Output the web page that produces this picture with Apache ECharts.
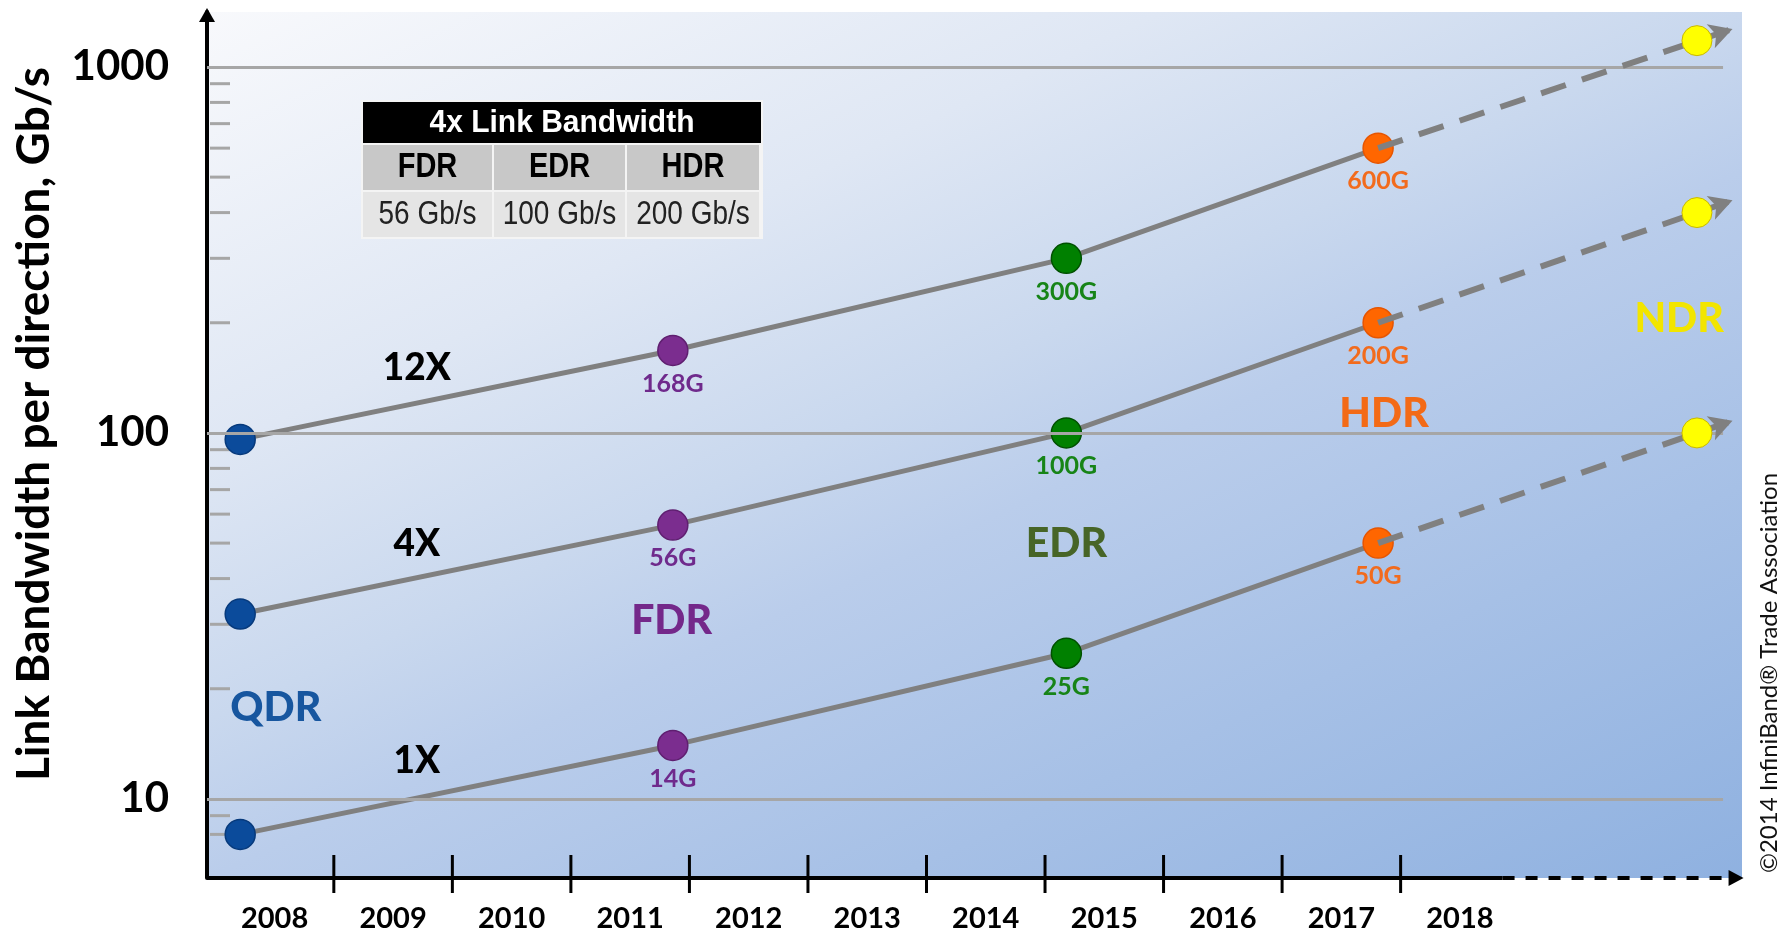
<!DOCTYPE html>
<html>
<head>
<meta charset="utf-8">
<title>InfiniBand link bandwidth roadmap</title>
<script src="https://cdn.jsdelivr.net/npm/echarts@6/dist/echarts.min.js"></script>
<style>
  html, body { margin: 0; padding: 0; background: #fff; }
  #chart { width: 1787px; height: 936px; }
</style>
</head>
<body>
<div id="chart"></div>
<script>
// values (Gb/s per direction, log scale)
var generations = ['QDR', 'FDR', 'EDR', 'HDR'];
var genYears = [2008.21, 2011.86, 2015.18, 2017.81];
var lanes = ['1X', '4X', '12X'];
var lane1x = [8, 14, 25, 50];
var lane4x = [32, 56, 100, 200];
var lane12x = [96, 168, 300, 600];
var ndrYear = 2020.5;
var ndrValues = [100, 400, 1180];
var arrowYear = 2020.8;
var arrowValues = [108, 432, 1270];
var yearLabels = [2008, 2009, 2010, 2011, 2012, 2013, 2014, 2015, 2016, 2017, 2018];
var yearTicks = [2009, 2010, 2011, 2012, 2013, 2014, 2015, 2016, 2017, 2018];
var yLabels = [10, 100, 1000];
var minorTicks = [8, 9, 20, 30, 40, 50, 60, 70, 80, 90, 200, 300, 400, 500, 600, 700, 800, 900];
var tableHead = '4x Link Bandwidth';
var tableCols = ['FDR', 'EDR', 'HDR'];
var tableRates = ['56 Gb/s', '100 Gb/s', '200 Gb/s'];

// where the free text sits, in axis units
var laneTextAt = { years: [2009.70, 2009.70, 2009.70], values: [12.7, 49.8, 150] };
var genTextNames = ['QDR', 'FDR', 'EDR', 'HDR', 'NDR'];
var genTextAt = { years: [2008.51, 2011.85, 2015.18, 2017.86, 2020.35], values: [17.7, 30.6, 49.8, 113, 205] };

var xMin = 2007.93, xMax = 2020.88, yMin = 6.08, yMax = 1413;
var gridEnd = 2020.72, axisSolidEnd = 2018.86, axisArrowEnd = 2020.83;

var dotColors = { QDR: '#0b4b9b', FDR: '#7b2d8f', EDR: '#008000', HDR: '#ff6600' };
var dotBorders = { QDR: '#073a7c', FDR: '#5f1f70', EDR: '#005000', HDR: '#e65500' };
var labelColors = { QDR: '#1f5ea6', FDR: '#6f2a8c', EDR: '#178417', HDR: '#f26b1d' };
var genTextColors = { QDR: '#17569f', FDR: '#74288a', EDR: '#476527', HDR: '#f36a16', NDR: '#f2e500' };

var chart = echarts.init(document.getElementById('chart'), null, { renderer: 'canvas' });

function laneSeries(name, values, arrowValue) {
  return {
    name: name,
    type: 'line',
    z: 3,
    clip: false,
    symbol: 'circle',
    symbolSize: 30,
    showAllSymbol: true,
    lineStyle: { color: '#808080', width: 5 },
    label: {
      show: true,
      position: 'bottom',
      distance: 5,
      fontFamily: 'Lato',
      fontWeight: 'bold',
      fontSize: 25,
      formatter: function (p) { return p.value[1] + 'G'; }
    },
    data: values.map(function (v, i) {
      var g = generations[i];
      return {
        value: [genYears[i], v],
        itemStyle: { color: dotColors[g], borderColor: dotBorders[g], borderWidth: 1.5, opacity: 1 },
        label: { show: i > 0, color: labelColors[g] }
      };
    }),
    markLine: {
      silent: true,
      animation: false,
      symbol: ['none', 'arrow'],
      symbolSize: [19, 23],
      label: { show: false },
      lineStyle: { color: '#808080', width: 6, type: [26, 17] },
      data: [[{ coord: [genYears[3], values[3]] }, { coord: [arrowYear, arrowValue] }]]
    }
  };
}

var font = 'Lato';

var option = {
  animation: false,
  grid: {
    left: 207, right: 45, top: 12, bottom: 58,
    show: true, borderWidth: 0,
    backgroundColor: new echarts.graphic.LinearGradient(0, 0, 0.39, 1.5, [
      { offset: 0, color: '#f8f9fc' },
      { offset: 0.28, color: '#dfe7f4' },
      { offset: 0.45, color: '#c9d8ee' },
      { offset: 0.55, color: '#bacdeb' },
      { offset: 0.75, color: '#a6c0e6' },
      { offset: 1, color: '#8fb1e0' }
    ])
  },
  xAxis: {
    type: 'value',
    min: xMin,
    max: xMax,
    axisLine: { show: false },
    axisTick: { show: false },
    splitLine: { show: false },
    axisLabel: {
      customValues: yearLabels.map(function (y) { return y + 0.5; }),
      formatter: function (v) { return String(Math.floor(v)); },
      margin: 26,
      color: '#000',
      fontFamily: font,
      fontWeight: 'bold',
      fontSize: 29
    }
  },
  yAxis: {
    type: 'log',
    logBase: 10,
    min: yMin,
    max: yMax,
    axisLine: {
      show: true,
      lineStyle: { color: '#000', width: 4 },
      symbol: ['none', 'triangle'],
      symbolSize: [16, 14],
      symbolOffset: [0, -3]
    },
    axisTick: { show: false },
    splitLine: { show: false },
    axisLabel: {
      showMinLabel: true,
      showMaxLabel: true,
      margin: 38,
      color: '#000',
      fontFamily: font,
      fontWeight: 'bold',
      fontSize: 42,
      formatter: function (v) {
        var r = Math.round(v);
        return yLabels.indexOf(r) >= 0 ? String(r) : '';
      }
    }
  },
  series: [
    {
      // minor ticks on the value axis + major grid lines
      type: 'scatter',
      z: 1,
      silent: true,
      clip: false,
      symbol: 'rect',
      symbolSize: [20, 3],
      symbolOffset: [13, 0],
      itemStyle: { color: '#a6a6a6', opacity: 1 },
      data: minorTicks.map(function (v) { return [xMin, v]; }),
      markLine: {
        silent: true,
        animation: false,
        symbol: 'none',
        label: { show: false },
        lineStyle: { color: '#a6a6a6', width: 3, type: 'solid' },
        data: yLabels.map(function (v) { return [{ coord: [xMin, v] }, { coord: [gridEnd, v] }]; })
      }
    },
    {
      // year axis: ticks, solid line, dashed future part with arrow
      type: 'scatter',
      z: 4,
      silent: true,
      clip: false,
      symbol: 'rect',
      symbolSize: [3, 38],
      symbolOffset: [0, -4],
      itemStyle: { color: '#000', opacity: 1 },
      data: yearTicks.map(function (y) { return [y, yMin]; }),
      markLine: {
        silent: true,
        animation: false,
        symbol: ['none', 'none'],
        label: { show: false },
        lineStyle: { color: '#000', width: 4 },
        data: [
          [{ coord: [xMin, yMin], lineStyle: { type: 'solid' } }, { coord: [axisSolidEnd, yMin] }],
          [{ coord: [axisSolidEnd, yMin], symbol: 'none', lineStyle: { type: [12, 11] } },
           { coord: [axisArrowEnd, yMin], symbol: 'triangle', symbolSize: [16, 15], itemStyle: { color: '#000' } }]
        ]
      }
    },
    laneSeries('1X', lane1x, arrowValues[0]),
    laneSeries('4X', lane4x, arrowValues[1]),
    laneSeries('12X', lane12x, arrowValues[2]),
    {
      name: 'NDR',
      type: 'scatter',
      z: 5,
      clip: false,
      symbolSize: 30,
      itemStyle: { color: '#ffff00', borderColor: '#c9b800', borderWidth: 1, opacity: 1 },
      data: ndrValues.map(function (v) { return [ndrYear, v]; })
    },
    {
      type: 'scatter',
      z: 6,
      silent: true,
      symbolSize: 1,
      itemStyle: { color: 'rgba(0,0,0,0)', opacity: 1 },
      label: {
        show: true, position: 'inside', formatter: '{b}',
        color: '#000', fontFamily: font, fontWeight: 900, fontSize: 37
      },
      data: lanes.map(function (n, i) {
        return { name: n, value: [laneTextAt.years[i], laneTextAt.values[i]] };
      })
    },
    {
      type: 'scatter',
      z: 6,
      silent: true,
      symbolSize: 1,
      itemStyle: { color: 'rgba(0,0,0,0)', opacity: 1 },
      label: {
        show: true, position: 'inside', formatter: '{b}',
        fontFamily: font, fontWeight: 900, fontSize: 41
      },
      data: genTextNames.map(function (n, i) {
        return {
          name: n,
          value: [genTextAt.years[i], genTextAt.values[i]],
          label: { color: genTextColors[n] }
        };
      })
    }
  ],
  graphic: []
};

// the small "4x Link Bandwidth" table
var tbl = { x: 363, y: 102, colW: [131, 133, 132], headH: 41, rowH: 45, gap: 2 };
var g = option.graphic;
function cellText(x, y, text, font, fill, sy) {
  return {
    type: 'text', z: 22, x: x, y: y, scaleY: sy || 1,
    style: { text: text, fill: fill, font: font, align: 'center', verticalAlign: 'middle', textAlign: 'center', textVerticalAlign: 'middle' }
  };
}
g.push({ type: 'rect', z: 20, shape: { x: tbl.x - 2, y: tbl.y - 2, width: 402, height: 139 }, style: { fill: '#f4f4f4' } });
g.push({ type: 'rect', z: 21, shape: { x: tbl.x, y: tbl.y, width: 398, height: tbl.headH }, style: { fill: '#000' } });
g.push(cellText(tbl.x + 199, tbl.y + 21, tableHead, 'bold 30px "Liberation Sans"', '#fff', 1.05));
var cx = tbl.x;
tableCols.forEach(function (c, i) {
  var w = tbl.colW[i] - (i < 2 ? tbl.gap : 0);
  var y2 = tbl.y + tbl.headH + tbl.gap;
  var y3 = y2 + tbl.rowH + tbl.gap;
  g.push({ type: 'rect', z: 21, shape: { x: cx, y: y2, width: w, height: tbl.rowH }, style: { fill: '#c8c8c8' } });
  g.push({ type: 'rect', z: 21, shape: { x: cx, y: y3, width: w, height: tbl.rowH }, style: { fill: '#e5e5e5' } });
  g.push(cellText(cx + w / 2, y2 + tbl.rowH / 2, c, 'bold 29px "Liberation Sans"', '#000', 1.22));
  g.push(cellText(cx + w / 2, y3 + tbl.rowH / 2, tableRates[i], '28px "Liberation Sans"', '#222', 1.18));
  cx += tbl.colW[i];
});

// axis title and credit line
g.push({
  type: 'text', z: 22, x: 34, y: 424, rotation: Math.PI / 2,
  style: { text: 'Link Bandwidth per direction, Gb/s', fill: '#000', font: 'bold 46px Lato', align: 'center', verticalAlign: 'middle', textAlign: 'center', textVerticalAlign: 'middle' }
});
g.push({
  type: 'text', z: 22, x: 1769, y: 673, rotation: Math.PI / 2,
  style: { text: '\u00A92014 InfiniBand\u00AE Trade Association', fill: '#111', font: '24px Lato', align: 'center', verticalAlign: 'middle', textAlign: 'center', textVerticalAlign: 'middle' }
});

chart.setOption(option);
window.addEventListener('resize', function () { chart.resize(); });
</script>
</body>
</html>
